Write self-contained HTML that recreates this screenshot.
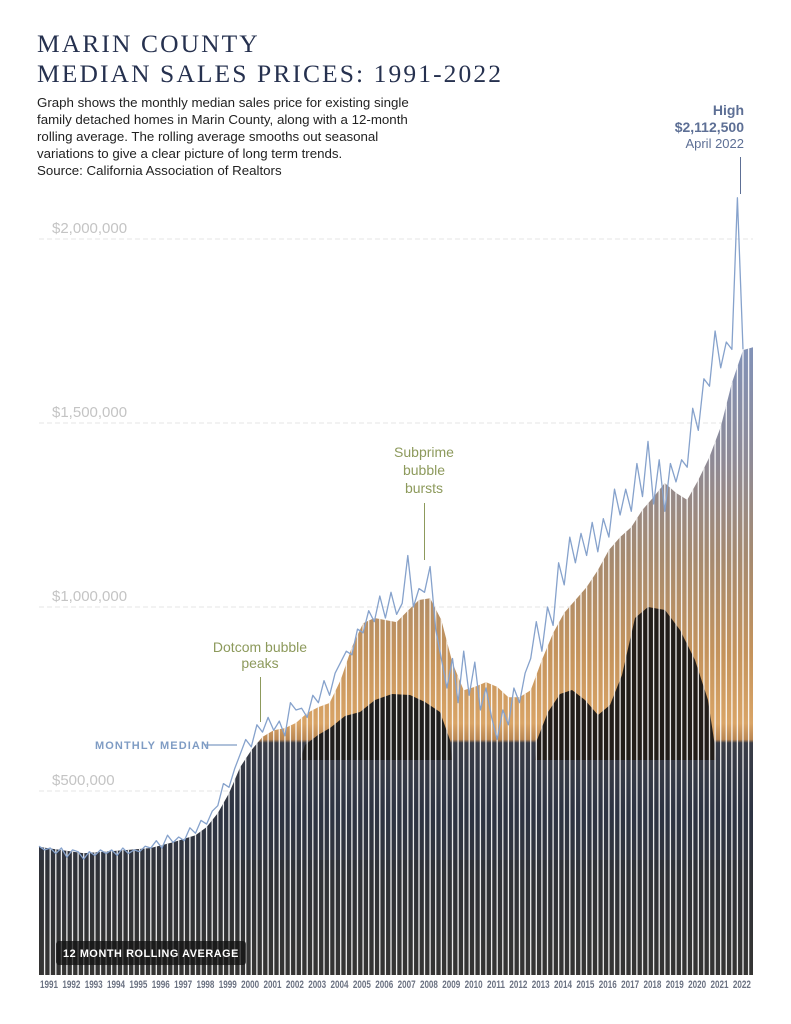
<!DOCTYPE html>
<html><head><meta charset="utf-8">
<style>
html,body{margin:0;padding:0;background:#fff;}
svg{display:block;}
.ttl{font-family:"Liberation Serif",serif;font-size:25.5px;fill:#26314f;letter-spacing:2.1px;}
.body{font-family:"Liberation Sans",sans-serif;font-size:13.3px;fill:#222;}
.ylab{font-family:"Liberation Sans",sans-serif;font-size:15px;fill:#c4c4c4;}
.yr{font-family:"Liberation Sans Narrow","Liberation Sans",sans-serif;font-size:11px;font-weight:bold;fill:#6b7282;}
.ann{font-family:"Liberation Sans Narrow","Liberation Sans",sans-serif;font-size:14px;fill:#8d9a5c;}
.hi{font-family:"Liberation Sans Narrow","Liberation Sans",sans-serif;fill:#5d6f95;}
</style></head>
<body>
<svg id="chart" width="791" height="1024" viewBox="0 0 791 1024">
<defs>
<linearGradient id="photo" gradientUnits="userSpaceOnUse" x1="0" y1="330" x2="0" y2="975">
<stop offset="0" stop-color="#7f93bd"/>
<stop offset="0.2" stop-color="#8e8a96"/>
<stop offset="0.35" stop-color="#a58a70"/>
<stop offset="0.5" stop-color="#c4935c"/>
<stop offset="0.61" stop-color="#d9a466"/>
<stop offset="0.635" stop-color="#b98652"/>
<stop offset="0.64" stop-color="#3a3d47"/>
<stop offset="0.75" stop-color="#2d3342"/>
<stop offset="1" stop-color="#3b3a38"/>
</linearGradient>
<clipPath id="areaClip"><path id="clipPath"/></clipPath>
</defs>
<g>
<text class="ttl" x="37" y="52">MARIN COUNTY</text>
<text class="ttl" x="37" y="82">MEDIAN SALES PRICES: 1991-2022</text>
<g>
<text class="body" x="37" y="107">Graph shows the monthly median sales price for existing single</text>
<text class="body" x="37" y="124">family detached homes in Marin County, along with a 12-month</text>
<text class="body" x="37" y="141">rolling average. The rolling average smooths out seasonal</text>
<text class="body" x="37" y="158">variations to give a clear picture of long term trends.</text>
<text class="body" x="37" y="175">Source: California Association of Realtors</text>
</g>
</g>
<g id="grid"></g>
<g id="ylabels"></g>
<g id="area"></g>
<g id="stripes" clip-path="url(#areaClip)"></g>
<g id="line"></g>
<g id="xlabels"></g>
<g>
<text class="ann" x="260" y="652" text-anchor="middle">Dotcom bubble</text>
<text class="ann" x="260" y="668" text-anchor="middle">peaks</text>
<line x1="260.5" y1="677" x2="260.5" y2="722" stroke="#8d9a5c" stroke-width="1"/>
<text class="ann" x="424" y="457" text-anchor="middle">Subprime</text>
<text class="ann" x="424" y="475" text-anchor="middle">bubble</text>
<text class="ann" x="424" y="493" text-anchor="middle">bursts</text>
<line x1="424.5" y1="503" x2="424.5" y2="560" stroke="#8d9a5c" stroke-width="1"/>
<text x="95" y="749" font-family="Liberation Sans,sans-serif" font-size="11" font-weight="bold" letter-spacing="1.1" fill="#7f9cc4">MONTHLY MEDIAN</text>
<line x1="205" y1="745" x2="237" y2="745" stroke="#7f9cc4" stroke-width="1.2"/>
<text class="hi" x="744" y="115" text-anchor="end" font-size="14" font-weight="bold">High</text>
<text class="hi" x="744" y="132" text-anchor="end" font-size="14" font-weight="bold">$2,112,500</text>
<text class="hi" x="744" y="148" text-anchor="end" font-size="13">April 2022</text>
<line x1="740.5" y1="157" x2="740.5" y2="194" stroke="#5d6f95" stroke-width="1"/>
<rect x="56" y="941" width="190" height="24" rx="3" fill="#111" fill-opacity="0.75"/>
<text x="63" y="957" font-family="Liberation Sans,sans-serif" font-size="11" font-weight="bold" letter-spacing="0.6" fill="#fff" textLength="176" lengthAdjust="spacingAndGlyphs">12 MONTH ROLLING AVERAGE</text>
</g>
</svg>
<script>
// rolling-average sample times and values (thousands $)
const rollT = [1991,1993,1995,1996,1997,1998,1998.5,1999,1999.5,2000,2000.5,2001,2001.5,2002,2002.5,2003,2003.5,2004,2004.5,2005,2005.5,2006,2007,2007.5,2008,2008.5,2009,2009.5,2010,2010.5,2011,2011.5,2012,2012.5,2013,2013.5,2014,2014.5,2015,2015.5,2016,2016.5,2017,2017.5,2018,2018.5,2019,2019.5,2020,2020.5,2021,2021.5,2022,2022.5,2022.95];
const rollV = [348,331,340,345,361,380,402,440,494,565,611,647,665,671,685,712,728,739,802,891,956,970,959,990,1019,1024,965,848,774,783,796,783,755,755,774,856,929,984,1019,1054,1100,1155,1190,1217,1264,1299,1337,1310,1291,1345,1408,1489,1609,1698,1706];
// monthly median, sampled quarterly from 1991.0 (thousands $)
const medStart = 1991;
const medV = [350,340,345,330, 345,320,340,335, 315,335,325,340, 330,340,325,345, 330,340,335,350,
 345,365,345,380, 360,375,365,400, 385,420,410,445, 460,520,510,560, 600,640,620,680,
 660,700,665,690, 650,740,720,725, 700,760,740,800, 760,820,850,880, 870,940,930,990,
 960,1030,970,1040, 980,1010,1140,1000, 1050,1040,1110,940, 860,780,860,740, 880,760,850,720,
 780,700,640,720, 680,780,740,820, 860,960,880,1000, 950,1120,1060,1190, 1120,1200,1140,1230,
 1150,1240,1190,1320, 1250,1320,1260,1390, 1300,1450,1280,1400, 1260,1390,1340,1400, 1380,1540,1480,1620,
 1600,1750,1650,1720, 1700,2112,1700];
const yTicks = [500000,1000000,1500000,2000000];
const yTickLabels = ["$500,000","$1,000,000","$1,500,000","$2,000,000"];
const years = [];
for (let y = 1991; y <= 2022; y++) years.push(y);

const X0 = 39, XMAX = 753, PXY = 22.35, Y0 = 975, PXV = 0.368;
const xs = t => Math.min(XMAX, X0 + (t - 1991) * PXY);
const ys = v => Y0 - v * PXV; // v in thousands
const NS = "http://www.w3.org/2000/svg";
const mk = (tag, attrs, parent) => { const e = document.createElementNS(NS, tag); for (const k in attrs) e.setAttribute(k, attrs[k]); parent.appendChild(e); return e; };

const grid = document.getElementById('grid'), yl = document.getElementById('ylabels');
yTicks.forEach((v, i) => {
  const y = ys(v / 1000);
  const l = mk('line', {x1: X0, x2: XMAX, y1: y, y2: y, stroke: '#e6e6e6', 'stroke-dasharray': '5 3', 'stroke-width': 1}, grid);
  
  
  const t = mk('text', {x: 52, y: y - 6, class: 'ylab'}, yl);
  t.textContent = yTickLabels[i];
  
  
});

// area
let d = `M${X0},${Y0}`;
rollT.forEach((t, i) => { d += ` L${xs(t).toFixed(1)},${ys(rollV[i]).toFixed(1)}`; });
d += ` L${XMAX},${Y0} Z`;
document.getElementById('clipPath').setAttribute('d', d);
const area = document.getElementById('area');
const ap = mk('path', {d: d, fill: 'url(#photo)'}, area);


// decorative rock silhouettes, clipped to area
const rocks = mk('g', {'clip-path': 'url(#areaClip)'}, area);


mk('path', {d: 'M300,760 L305,745 L318,735 L330,728 L345,716 L360,712 L375,700 L392,694 L410,695 L425,702 L440,712 L450,740 L452,760 Z', fill: '#201e1d'}, rocks);
mk('path', {d: 'M535,760 L537,740 L548,712 L560,694 L572,690 L585,700 L598,715 L610,705 L622,675 L635,618 L648,607 L665,610 L680,630 L695,660 L708,700 L714,740 L716,760 Z', fill: '#221d19'}, rocks);
mk('rect', {x: 39, y: 860, width: 714, height: 115, fill: '#2b2a2a', 'fill-opacity': 0.35}, rocks);

// stripes
const st = document.getElementById('stripes');
for (let q = 1; q < 128; q++) {
  const x = X0 + q * PXY / 4;
  if (x > XMAX) break;
  const s = mk('line', {x1: x.toFixed(1), x2: x.toFixed(1), y1: 200, y2: Y0, stroke: '#fff', 'stroke-width': 1.3, 'stroke-opacity': 0.9}, st);
  
  
}

// line
let ld = '';
medV.forEach((v, i) => { const t = medStart + i / 4; ld += (i ? ' L' : 'M') + xs(t).toFixed(1) + ',' + ys(v).toFixed(1); });
const lp = mk('path', {d: ld, fill: 'none', stroke: '#86a2cc', 'stroke-width': 1.3, 'stroke-linejoin': 'round'}, document.getElementById('line'));



// year labels
const xl = document.getElementById('xlabels');
years.forEach(y => {
  const t = mk('text', {x: xs(y) + 1, y: 988, class: 'yr', textLength: 18, lengthAdjust: 'spacingAndGlyphs'}, xl);
  t.textContent = y;
  
  
});
</script>
</body></html>
